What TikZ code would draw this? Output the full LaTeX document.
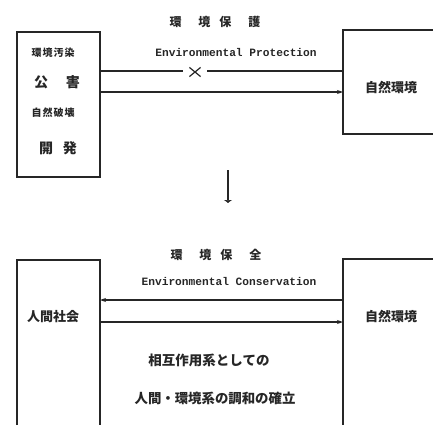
\documentclass[tikz,border=0pt]{standalone}
\usepackage{fontspec}
\newfontfamily\jp{Noto Sans CJK JP}
\newfontfamily\mono{Liberation Mono}
\usetikzlibrary{arrows.meta,shapes.misc}
\definecolor{ink}{gray}{0.15}
\tikzset{
  boxline/.style={draw=ink,line width=1.3pt},
  conn/.style={draw=ink,line width=1.3pt},
  arr/.style={conn,-{Stealth[length=6pt,width=4pt]}},
  jtext/.style={font=\jp\bfseries\fontsize{13}{14}\selectfont,text=ink,inner sep=0pt},
  jbig/.style={font=\jp\bfseries\fontsize{14}{15}\selectfont,text=ink,inner sep=0pt},
  jtitle/.style={font=\jp\bfseries\fontsize{12}{13}\selectfont,text=ink,inner sep=0pt},
  jsmall/.style={font=\jp\bfseries\fontsize{10}{11}\selectfont,text=ink,inner sep=0pt},
  etext/.style={font=\mono\bfseries\fontsize{11.2}{12}\selectfont,text=ink,inner sep=0pt},
}
\begin{document}
\begin{tikzpicture}[x=1pt,y=-1pt]
\useasboundingbox (0,0) rectangle (433,425);
% box corner coordinates
\coordinate (ltopNW) at (17,32);
\coordinate (ltopSE) at (100,177);
\coordinate (rtopNW) at (343,30);
\coordinate (rtopSE) at (433,134);
\coordinate (lbotNW) at (17,260);
\coordinate (lbotSE) at (100,425);
\coordinate (rbotNW) at (343,259);
\coordinate (rbotSE) at (433,425);
% top boxes
\draw[boxline] (ltopNW) rectangle (ltopSE);
\draw[boxline] (433,30) -- (rtopNW) -- (343,134) -- (433,134);
\node[jsmall] (t1) at (53,53) {環\kern1pt 境\kern1pt 汚\kern1pt 染};
\node[jbig] (t2) at (57,82) {公\kern18pt 害};
\node[jsmall] (t3) at (53,113) {自\kern1pt 然\kern1pt 破\kern1pt 壊};
\node[jbig] (t4) at (58,148) {開\kern10pt 発};
\node[jtext] (rt) at (391,88) {自然環境};
\node[jtitle] (title1) at (215,22) {環\kern17pt 境\kern9pt 保\kern17pt 護};
\node[etext] (en1) at (236,52) {Environmental Protection};
\node[draw=ink,line width=1.2pt,cross out,minimum width=10pt,minimum height=8pt,inner sep=0pt] (cx) at (195,72) {};
\coordinate (a1) at (100,71);
\coordinate (a2) at (183,71);
\coordinate (a3) at (207,71);
\coordinate (a4) at (343,71);
\draw[conn] (a1) -- (a2);
\draw[conn] (a3) -- (a4);
\coordinate (b1) at (100,92);
\coordinate (b2) at (343,92);
\draw[arr] (b1) -- (b2);
% down arrow
\coordinate (da) at (228,170);
\coordinate (db) at (228,203);
\draw[draw=ink,line width=2.2pt,-{Latex[length=3pt,width=9pt]}] (da) -- (db);
% bottom boxes
\draw[boxline] (17,425) -- (lbotNW) -- (100,260) -- (100,425);
\draw[boxline] (433,259) -- (rbotNW) -- (343,425);
\node[jtext] (lb) at (53,317) {人間社会};
\node[jtext] (rb) at (391,317) {自然環境};
\node[jtitle] (title2) at (216,255) {環\kern17pt 境\kern9pt 保\kern17pt 全};
\node[etext] (en2) at (229,281) {Environmental Conservation};
\coordinate (c1) at (343,300);
\coordinate (c2) at (100,300);
\coordinate (d1) at (100,322);
\coordinate (d2) at (343,322);
\draw[arr] (c1) -- (c2);
\draw[arr] (d1) -- (d2);
\node[font=\jp\bfseries\fontsize{13.5}{14}\selectfont,text=ink,inner sep=0pt] (m1) at (209,360) {相互作用系としての};
\node[font=\jp\bfseries\fontsize{13.4}{14}\selectfont,text=ink,inner sep=0pt] (m2) at (215,398) {人間・環境系の調和の確立};
\end{tikzpicture}
\end{document}
